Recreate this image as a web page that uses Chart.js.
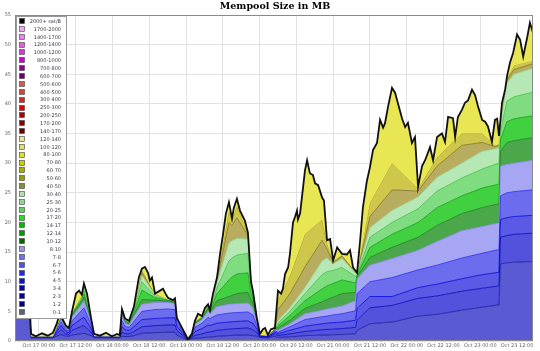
<!DOCTYPE html>
<html lang="en">
<head>
  <meta charset="UTF-8">
  <title>Mempool Size in MB</title>
  <script src="https://cdn.jsdelivr.net/npm/chart.js@4.4.1/dist/chart.umd.min.js"></script>
  <style>
    html, body {
      margin: 0;
      padding: 0;
      background: #fff;
    }
    #chart {
      display: block;
    }
  </style>
</head>
<body>
  <canvas id="chart" width="540" height="351"></canvas>
  <script>
    // Title and axis labels
    const chartTitle = 'Mempool Size in MB';
    const tickLabels = [
      'Oct 17 00:00', 'Oct 17 12:00', 'Oct 18 00:00', 'Oct 18 12:00', 'Oct 19 00:00',
      'Oct 19 12:00', 'Oct 20 00:00', 'Oct 20 12:00', 'Oct 21 00:00', 'Oct 21 12:00',
      'Oct 22 00:00', 'Oct 22 12:00', 'Oct 23 00:00', 'Oct 23 12:00',
    ];

    // Fee levels shown in the legend (sat/B), top to bottom
    const feeLevels = [
      '2000+ sat/B', '1700-2000', '1400-1700', '1200-1400', '1000-1200', '800-1000',
      '700-800', '600-700', '500-600', '400-500', '300-400', '250-300', '200-250',
      '170-200', '140-170', '120-140', '100-120', '80-100', '70-80', '60-70', '50-60',
      '40-50', '30-40', '25-30', '20-25', '17-20', '14-17', '12-14', '10-12', '8-10',
      '7-8', '6-7', '5-6', '4-5', '3-4', '2-3', '1-2', '0-1',
    ];

    // Total mempool size (MB); time in hours since Oct 17 00:00
    const topHours = [
      -7.8, -3.3, -2.6, -1.0, 1.0, 2.9, 4.6, 5.9, 6.5, 7.2,
      7.8, 8.8, 9.8, 10.8, 12.1, 13.1, 14.0, 14.7, 15.7, 17.0,
      18.0, 19.9, 21.9, 23.8, 25.5, 26.4, 27.1, 28.1, 29.4, 31.0,
      32.6, 33.6, 34.6, 35.6, 36.2, 36.9, 37.9, 39.5, 40.5, 41.4,
      42.1, 43.7, 44.4, 45.0, 46.0, 47.0, 48.6, 49.9, 50.9, 51.9,
      53.2, 54.2, 55.2, 55.8, 56.8, 58.1, 59.1, 60.1, 61.0, 62.0,
      63.0, 63.6, 64.6, 65.6, 67.2, 68.2, 69.2, 69.8, 71.1, 72.1,
      73.1, 73.8, 74.7, 75.7, 77.0, 78.0, 79.0, 79.6, 80.3, 81.3,
      81.9, 82.9, 83.6, 84.2, 84.5, 85.2, 86.2, 86.8, 87.5, 88.4,
      89.4, 90.1, 91.1, 92.4, 93.0, 94.0, 95.0, 96.0, 97.3, 98.9,
      100.5, 101.5, 102.5, 103.8, 104.8, 105.7, 107.0, 108.0, 109.0, 110.3,
      111.3, 112.3, 112.9, 113.9, 115.2, 116.2, 117.2, 118.5, 119.5, 120.4,
      121.7, 122.7, 123.7, 125.0, 126.0, 127.6, 128.6, 129.9, 131.5, 132.5,
      133.5, 135.1, 135.8, 136.7, 138.0, 139.0, 140.0, 141.3, 142.3, 143.3,
      144.6, 145.6, 146.5, 147.8, 148.8, 149.5, 150.1, 151.1, 152.1, 152.7,
      153.7, 154.7, 156.0, 157.0, 158.0, 159.3, 160.2, 161.2,
    ];
    const totalMB = [
      10.0, 10.2, 1.2, 0.8, 1.3, 0.9, 1.4, 3.0, 4.2, 4.7,
      3.6, 2.6, 2.2, 5.0, 8.0, 8.5, 7.8, 9.7, 8.0, 3.9,
      1.2, 0.9, 1.4, 0.8, 1.2, 1.0, 5.4, 3.8, 3.4, 5.8,
      10.7, 12.2, 12.5, 11.5, 10.2, 10.7, 8.0, 8.5, 8.8, 7.9,
      7.3, 6.9, 7.2, 3.9, 2.9, 1.9, 0.3, 1.2, 3.4, 4.6,
      4.2, 5.6, 6.2, 5.2, 8.0, 10.7, 14.7, 18.1, 21.5, 23.4,
      20.7, 22.5, 24.0, 22.0, 20.3, 18.3, 10.0, 8.5, 3.9, 1.2,
      2.0, 2.2, 1.0, 2.0, 2.2, 8.5, 8.0, 8.8, 11.3, 12.4,
      14.7, 20.0, 21.0, 22.0, 20.5, 21.5, 26.0, 28.8, 30.5, 28.3,
      28.0, 26.6, 26.3, 24.2, 23.7, 17.0, 17.2, 13.6, 15.8, 14.7,
      14.6, 15.3, 12.4, 11.5, 17.0, 22.5, 27.0, 29.3, 32.2, 33.4,
      37.3, 36.0, 36.7, 39.5, 42.7, 41.9, 40.0, 37.5, 36.1, 36.8,
      33.4, 34.4, 26.0, 29.5, 30.5, 32.7, 30.5, 34.4, 35.0, 33.6,
      37.8, 37.6, 34.4, 37.8, 39.0, 40.2, 40.6, 42.4, 41.5, 39.5,
      37.3, 37.0, 36.2, 33.6, 37.3, 37.5, 34.6, 40.2, 42.4, 44.6,
      47.0, 48.6, 51.7, 50.8, 48.0, 51.2, 53.7, 52.0,
    ];

    // Cumulative size (MB) up to each fee band, sampled at layerHours
    const layerHours = [
      -7.8, -3.3, -2.6, 4.6, 7.2, 8.8, 9.8, 10.8, 14.0, 14.7,
      17.0, 18.0, 26.4, 27.1, 28.1, 29.4, 31.0, 33.6, 37.9, 42.1,
      44.4, 45.0, 48.6, 49.9, 50.9, 53.2, 55.2, 55.8, 58.1, 62.0, 63.0,
      64.6, 68.2, 69.2, 69.8, 71.1, 72.1, 74.7, 77.0, 78.0, 81.9,
      86.8, 92.4, 94.0, 96.0, 98.9, 103.3, 103.8, 108.0, 115.2, 123.7,
      129.9, 138.0, 144.6, 148.8, 150.1, 150.6, 152.7, 155.0, 161.2,
    ];
    const upTo2 = [
      7.5, 7.6, 0.55, 0.55, 1.1, 0.8, 0.8, 1.0, 1.25, 1.3,
      0.9, 0.58, 0.55, 0.8, 0.75, 0.75, 0.9, 1.3, 1.4, 1.5,
      1.5, 1.0, 0.15, 0.4, 0.45, 0.55, 0.65, 0.65, 0.8, 0.9, 0.95,
      1.0, 1.0, 0.95, 0.9, 0.8, 0.6, 0.55, 0.8, 0.6, 0.7,
      0.9, 1.0, 1.0, 1.05, 1.1, 1.2, 1.8, 2.9, 3.2, 4.2,
      4.5, 5.2, 5.7, 6.0, 6.1, 13.0, 13.2, 13.3, 13.4,
    ];
    const upTo4 = [
      8.2, 8.3, 0.6, 0.6, 1.9, 1.2, 1.1, 1.8, 2.5, 2.6,
      1.5, 0.64, 0.6, 1.5, 1.25, 1.2, 1.6, 2.4, 2.6, 2.7,
      2.7, 1.8, 0.18, 0.6, 0.9, 1.2, 1.5, 1.5, 1.8, 2.0, 2.05,
      2.1, 2.2, 2.0, 1.9, 1.4, 0.7, 0.62, 1.2, 0.9, 1.2,
      1.6, 1.9, 1.95, 2.0, 2.1, 2.3, 3.5, 5.6, 6.0, 7.2,
      7.6, 8.4, 8.9, 9.2, 9.3, 17.5, 17.8, 18.0, 18.2,
    ];
    const upTo6 = [
      8.6, 8.7, 0.64, 0.64, 2.6, 1.6, 1.4, 2.6, 3.8, 4.0,
      2.1, 0.69, 0.64, 2.4, 1.9, 1.75, 2.4, 3.6, 3.8, 3.9,
      3.9, 2.5, 0.2, 0.75, 1.6, 2.1, 2.7, 2.6, 3.0, 3.2, 3.25,
      3.3, 3.4, 3.1, 3.0, 2.0, 0.8, 0.68, 1.5, 1.2, 1.8,
      2.5, 2.9, 3.0, 3.1, 3.2, 3.5, 5.5, 7.5, 7.5, 9.0,
      9.6, 10.5, 11.2, 11.5, 11.6, 20.5, 20.8, 21.0, 21.2,
    ];
    const upTo8 = [
      8.9, 9.0, 0.67, 0.67, 3.2, 1.9, 1.7, 3.4, 5.2, 5.6,
      2.8, 0.73, 0.67, 3.4, 2.5, 2.3, 3.3, 5.0, 5.3, 5.4,
      5.3, 3.1, 0.22, 0.85, 2.3, 3.0, 4.0, 3.8, 4.4, 4.7, 4.75,
      4.8, 4.9, 4.6, 4.4, 2.6, 0.85, 0.73, 1.7, 1.5, 2.4,
      3.6, 4.1, 4.2, 4.4, 4.6, 5.1, 8.0, 10.0, 10.7, 12.0,
      12.8, 14.0, 14.8, 15.3, 15.4, 24.5, 25.0, 25.2, 25.5,
    ];
    const upTo10 = [
      9.2, 9.3, 0.69, 0.69, 3.6, 2.1, 1.85, 4.0, 6.2, 6.8,
      3.2, 0.76, 0.69, 4.3, 3.0, 2.7, 4.1, 6.2, 6.5, 6.5,
      6.3, 3.45, 0.23, 0.92, 2.8, 3.6, 5.0, 4.6, 5.8, 6.2, 6.25,
      6.3, 6.4, 5.9, 5.6, 3.0, 0.9, 0.77, 1.85, 1.8, 2.9,
      4.6, 5.2, 5.4, 5.6, 5.9, 6.8, 10.5, 12.8, 13.9, 15.3,
      16.8, 18.6, 19.3, 19.8, 19.9, 29.5, 29.8, 30.0, 30.5,
    ];
    const upTo14 = [
      9.4, 9.5, 0.7, 0.7, 3.8, 2.2, 1.95, 4.3, 6.7, 7.4,
      3.4, 0.77, 0.7, 4.6, 3.2, 2.9, 4.5, 7.0, 6.9, 6.75,
      6.5, 3.57, 0.24, 0.96, 3.0, 3.8, 5.4, 4.85, 6.8, 7.5, 7.7,
      8.0, 8.2, 7.0, 6.4, 3.3, 0.93, 0.8, 1.95, 2.2, 3.5,
      5.5, 6.6, 7.0, 7.4, 8.0, 8.2, 10.85, 14.1, 15.8, 17.5,
      19.5, 21.5, 22.5, 23.0, 23.1, 32.0, 33.5, 33.8, 34.3,
    ];
    const upTo20 = [
      9.55, 9.7, 0.71, 0.71, 3.95, 2.27, 2.0, 4.5, 7.0, 8.0,
      3.55, 0.78, 0.71, 4.8, 3.35, 3.0, 4.9, 8.6, 7.3, 6.85,
      6.58, 3.65, 0.25, 0.98, 3.1, 3.9, 5.7, 4.95, 8.0, 10.3, 10.8,
      11.3, 11.5, 8.0, 7.2, 3.5, 0.95, 0.82, 2.0, 2.6, 4.3,
      6.8, 8.8, 9.3, 9.7, 10.3, 9.8, 11.05, 15.8, 18.0, 20.0,
      22.5, 24.5, 25.8, 26.3, 26.5, 34.0, 37.0, 37.5, 38.0,
    ];
    const upTo30 = [
      9.65, 9.8, 0.72, 0.72, 4.05, 2.32, 2.03, 4.6, 7.2, 8.5,
      3.65, 0.79, 0.72, 4.9, 3.45, 3.1, 5.2, 10.0, 7.55, 6.9,
      6.62, 3.7, 0.25, 1.0, 3.18, 3.96, 5.85, 5.0, 9.0, 13.5, 14.0,
      14.5, 14.8, 8.8, 7.8, 3.6, 0.97, 0.84, 2.04, 3.0, 5.0,
      8.0, 11.2, 11.7, 11.9, 12.4, 10.9, 11.2, 17.5, 20.0, 22.3,
      25.3, 27.5, 29.0, 29.8, 30.0, 35.5, 40.5, 41.2, 42.0,
    ];
    const upTo40 = [
      9.75, 9.9, 0.73, 0.73, 4.1, 2.35, 2.05, 4.7, 7.35, 9.0,
      3.72, 0.8, 0.73, 5.0, 3.55, 3.17, 5.4, 11.0, 7.75, 6.95,
      6.65, 3.74, 0.26, 1.02, 3.22, 4.0, 5.95, 5.05, 9.8, 16.5, 16.9,
      17.3, 17.2, 9.3, 8.1, 3.7, 0.98, 0.86, 2.07, 3.4, 5.6,
      9.0, 13.5, 14.0, 13.0, 13.9, 11.4, 11.3, 19.1, 22.0, 24.3,
      27.6, 30.0, 32.0, 32.4, 32.6, 36.5, 43.5, 45.0, 46.0,
    ];
    const upTo50 = [
      9.85, 10.0, 0.74, 0.74, 4.15, 2.38, 2.08, 4.78, 7.5, 9.3,
      3.78, 0.81, 0.74, 5.1, 3.62, 3.22, 5.5, 11.6, 7.85, 6.98,
      6.68, 3.77, 0.26, 1.04, 3.26, 4.05, 6.02, 5.08, 10.3, 20.0, 19.5,
      20.8, 17.8, 9.6, 8.3, 3.75, 0.99, 0.88, 2.1, 5.3, 8.0,
      12.5, 17.0, 15.5, 13.3, 14.3, 11.6, 11.35, 21.0, 25.5, 25.3,
      29.5, 33.0, 33.5, 32.8, 33.0, 36.9, 44.0, 45.8, 46.8,
    ];
    const upTo70 = [
      9.9, 10.05, 0.75, 0.75, 4.2, 2.4, 2.1, 4.85, 7.6, 9.5,
      3.82, 0.82, 0.75, 5.15, 3.68, 3.27, 5.55, 11.9, 7.92, 7.0,
      6.7, 3.8, 0.27, 1.05, 3.3, 4.1, 6.08, 5.1, 10.5, 22.0, 20.4,
      22.8, 18.1, 9.8, 8.4, 3.8, 1.0, 0.9, 2.12, 6.8, 11.0,
      18.0, 20.5, 16.5, 13.45, 14.5, 11.7, 11.4, 23.3, 30.0, 25.7,
      31.0, 35.0, 35.0, 33.0, 33.2, 37.1, 44.3, 46.5, 47.3,
    ];

    // Styles
    const legendColors = [
      '#000000', '#f0a8f0', '#ee82ee', '#e060e0', '#d838d8', '#cc00cc',
      '#8b008b', '#660066', '#cd5c5c', '#c84848', '#c03030', '#dd0000', '#aa0000',
      '#880000', '#660000', '#e2e898', '#dde070', '#e0e020', '#cccc00', '#aaaa00', '#999900',
      '#8a8a3a', '#b0e0b0', '#90d890', '#60d060', '#22dd22', '#00bb00', '#009900', '#006600', '#9898ee',
      '#7070e8', '#5050e8', '#2828e0', '#1010c8', '#0000b0', '#000099', '#000080', '#606070',
    ];

    const bands = [
      { data: upTo2, fill: 'origin', bg: '#5a5ad2', line: '#14149a' },
      { data: upTo4, fill: '-1', bg: '#5252dc', line: '#0000b8' },
      { data: upTo6, fill: '-1', bg: '#5a5ae6', line: '#0000d8' },
      { data: upTo8, fill: '-1', bg: '#6c6cee', line: '#2a2aee' },
      { data: upTo10, fill: '-1', bg: '#a6a6f2', line: '#8282e8' },
      { data: upTo14, fill: '-1', bg: '#4aa84a', line: '#1e7a1e' },
      { data: upTo20, fill: '-1', bg: '#40d040', line: '#10a010' },
      { data: upTo30, fill: '-1', bg: '#80dc80', line: '#40c040' },
      { data: upTo40, fill: '-1', bg: '#b6e8b6', line: '#90d090' },
      { data: upTo50, fill: '-1', bg: '#b8ad5e', line: '#7d7520' },
      { data: upTo70, fill: '-1', bg: '#cfc64c', line: '#9a9410' },
    ];

    const datasets = bands.map((b) => ({
      data: layerHours.map((h, i) => ({ x: h, y: b.data[i] })),
      fill: b.fill,
      backgroundColor: b.bg,
      borderColor: b.line,
      borderWidth: 0.8,
    }));

    datasets.push({
      data: topHours.map((h, i) => ({ x: h, y: totalMB[i] })),
      fill: '-1',
      backgroundColor: '#e8e652',
      borderColor: '#111111',
      borderWidth: 1.8,
      order: -1,
    });

    // Frame, title and the legend box drawn inside the plot
    const decor = {
      id: 'decor',
      afterDraw(chart) {
        const { ctx, chartArea: a } = chart;
        ctx.save();

        ctx.strokeStyle = '#8a8a8a';
        ctx.lineWidth = 1;
        ctx.strokeRect(Math.round(a.left) + 0.5, Math.round(a.top) + 0.5,
          Math.round(a.width) - 1, Math.round(a.height) - 1);

        ctx.fillStyle = '#000';
        ctx.font = 'bold 9.5px "DejaVu Serif"';
        ctx.textAlign = 'center';
        ctx.textBaseline = 'middle';
        ctx.fillText(chartTitle, 275, 7);

        const boxL = 16.5, boxT = 16.5, boxR = 66.5, boxB = 318.5;
        ctx.fillStyle = '#fff';
        ctx.fillRect(boxL, boxT, boxR - boxL, boxB - boxT);
        ctx.strokeStyle = '#999';
        ctx.strokeRect(boxL, boxT, boxR - boxL, boxB - boxT);

        const step = (312 - 21) / (feeLevels.length - 1);
        ctx.font = '5px "DejaVu Sans"';
        ctx.textAlign = 'right';
        feeLevels.forEach((label, i) => {
          const y = 21 + i * step;
          ctx.fillStyle = legendColors[i];
          ctx.fillRect(19.5, Math.round(y) - 2.5, 5, 5);
          ctx.strokeStyle = '#444';
          ctx.lineWidth = 0.6;
          ctx.strokeRect(19.5, Math.round(y) - 2.5, 5, 5);
          ctx.fillStyle = '#3a3a4a';
          ctx.fillText(label, 61, y + 0.5);
        });

        ctx.restore();
      },
    };

    new Chart(document.getElementById('chart'), {
      type: 'line',
      data: { datasets },
      plugins: [decor],
      options: {
        responsive: false,
        animation: false,
        devicePixelRatio: 1,
        layout: { padding: { top: 15, right: 7, left: 0, bottom: 0 } },
        elements: {
          point: { radius: 0, hoverRadius: 0 },
          line: { tension: 0 },
        },
        plugins: {
          legend: { display: false },
          title: { display: false },
          tooltip: { enabled: false },
        },
        scales: {
          x: {
            type: 'linear',
            min: -7.8,
            max: 161.2,
            border: { display: false },
            grid: { color: '#e2e2e2', drawTicks: false },
            ticks: {
              stepSize: 12,
              includeBounds: false,
              autoSkip: false,
              maxRotation: 0,
              padding: 2,
              color: '#666',
              font: { size: 5, family: 'DejaVu Sans' },
              callback: (v) => tickLabels[Math.round(v / 12)],
            },
            afterFit: (s) => { s.height = 10; },
          },
          y: {
            min: 0,
            max: 55,
            border: { display: false },
            grid: { color: '#e2e2e2', drawTicks: false },
            ticks: {
              stepSize: 5,
              padding: 4,
              color: '#666',
              font: { size: 5, family: 'DejaVu Sans' },
            },
            afterFit: (s) => { s.width = 15; },
          },
        },
      },
    });
  </script>
</body>
</html>
